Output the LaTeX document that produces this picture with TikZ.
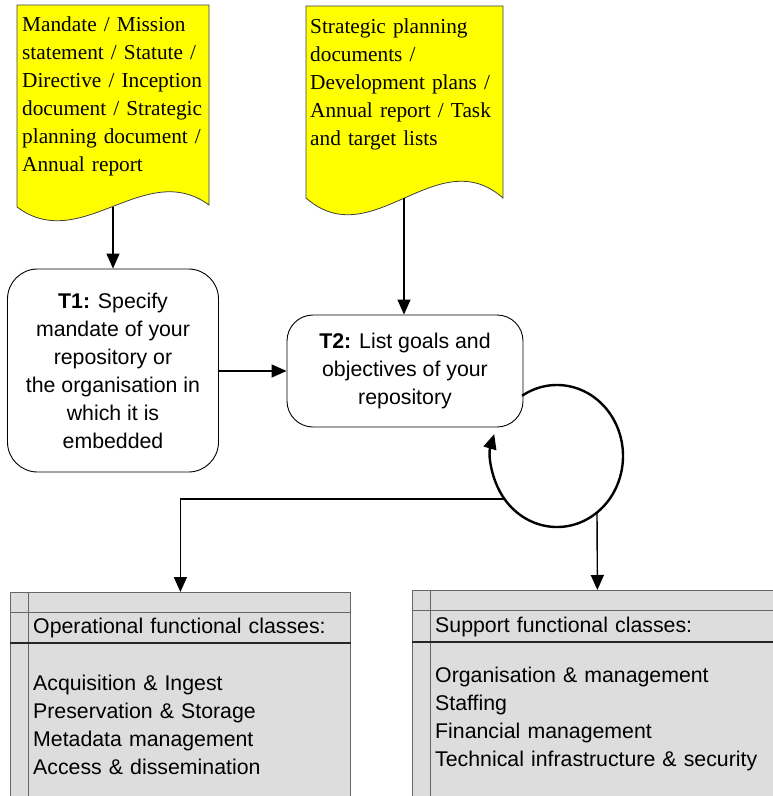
\documentclass[tikz,border=0pt]{standalone}
\usepackage{fontspec}
\setmainfont{Liberation Sans}
\newfontfamily\serifdoc{Liberation Serif}
\usetikzlibrary{arrows.meta}
\definecolor{docyellow}{HTML}{FFFF00}
\definecolor{classgray}{HTML}{DDDDDD}
\begin{document}
\begin{tikzpicture}[x=1pt,y=1pt,
  conn/.style={line width=1.4pt, -{Triangle[length=15pt,width=13pt]}},
  loopline/.style={line width=2.4pt, -{Triangle[length=15pt,width=13pt]}},
  docshape/.style={draw=black!75, line width=0.8pt, fill=docyellow},
  doctext/.style={anchor=base west, inner sep=0pt, text width=200pt, align=left, font=\serifdoc\fontsize{21.3}{28}\selectfont},
  taskbox/.style={draw=black, line width=0.9pt, fill=white, rounded corners=30pt, align=center, font=\fontsize{21.3}{28}\selectfont, inner sep=0pt},
  classbox/.style={draw=black!60, line width=0.8pt, fill=classgray, anchor=north west, inner sep=0pt},
  classline/.style={draw=black!60, line width=0.8pt},
  classthick/.style={draw=black!85, line width=1.8pt},
  classtext/.style={anchor=base west, inner sep=0pt, text width=330pt, align=left, font=\fontsize{21.3}{28}\selectfont},
]
\useasboundingbox (0,0) rectangle (773,-796);
\clip (0,0) rectangle (773,-796);

% source documents
\path[docshape] (17,-5) -- (17,-207) .. controls (81,-255) and (145,-158) .. (209,-205) -- (209,-5) -- cycle;
\node[doctext] (d1) at (22,-31) {Mandate / Mission\\statement / Statute /\\Directive / Inception\\document / Strategic\\planning document /\\Annual report};
\coordinate (d1b) at (113,-206.5);

\path[docshape] (306,-6) -- (306,-198) .. controls (372,-256) and (437,-140) .. (503,-198) -- (503,-6) -- cycle;
\node[doctext] (d2) at (310,-33) {Strategic planning\\documents /\\Development plans /\\Annual report / Task\\and target lists};
\coordinate (d2b) at (404,-198);

% tasks
\node[taskbox, minimum width=211pt, minimum height=203pt] (T1) at (113,-370.5) {\textbf{T1:} Specify\\mandate of your\\repository or\\the organisation in\\which it is\\embedded};
\node[taskbox, rounded corners=26pt, minimum width=236pt, minimum height=112pt] (T2) at (405,-371) {\textbf{T2:} List goals and\\objectives of your\\repository};

% class boxes
\node[classbox, minimum width=340pt, minimum height=230pt] (OP) at (10,-592) {};
\draw[classline] (28,-592) -- (28,-822);
\draw[classline] (OP.west |- 0,-612) -- (OP.east |- 0,-612);
\draw[classthick] (OP.west |- 0,-643) -- (OP.east |- 0,-643);
\node[classtext] (OPh) at (33,-633) {Operational functional classes:};
\node[classtext] (OPl) at (33,-690) {Acquisition \& Ingest\\Preservation \& Storage\\Metadata management\\Access \& dissemination};

\node[classbox, minimum width=370pt, minimum height=230pt] (SP) at (412,-590) {};
\draw[classline] (430,-590) -- (430,-820);
\draw[classline] (SP.west |- 0,-610) -- (SP.east |- 0,-610);
\draw[classthick] (SP.west |- 0,-642) -- (SP.east |- 0,-642);
\node[classtext] (SPh) at (435,-632) {Support functional classes:};
\node[classtext] (SPl) at (435,-682) {Organisation \& management\\Staffing\\Financial management\\Technical infrastructure \& security};

% connectors
\draw[conn] (d1b) -- (T1.north);
\draw[conn] (d2b) -- (d2b |- T2.north);
\draw[conn] (T1.east |- T2.west) -- (T2.west);

% iteration loop on T2
\coordinate (lc) at (557,-456);
\draw[loopline] (lc) ++(122:66pt and 71pt) arc[start angle=122, end angle=-198, x radius=66pt, y radius=71pt];
\coordinate (lL) at (504.5,-499);
\coordinate (lB) at (597,-512.5);
\draw[conn] (lL) -| (OP.north);
\draw[conn] (lB) -- (SP.north);
\end{tikzpicture}
\end{document}
